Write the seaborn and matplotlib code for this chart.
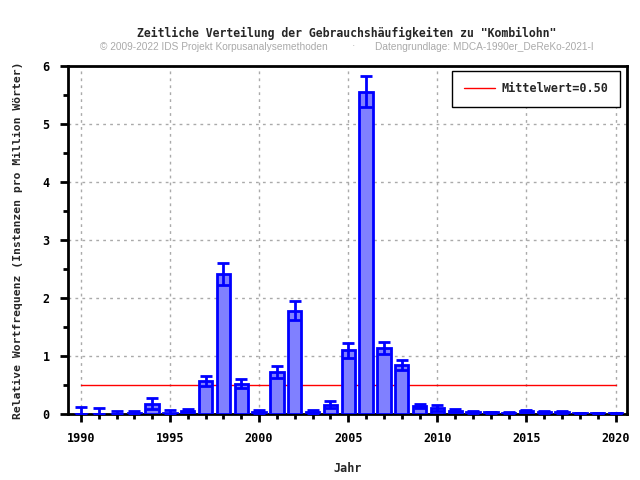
import matplotlib
matplotlib.use("Agg")
import matplotlib.pyplot as plt
import seaborn as sns
import numpy as np
import pandas as pd
from matplotlib.ticker import MultipleLocator

years = list(range(1990, 2021))
values = [0.00, 0.00, 0.00, 0.02, 0.18, 0.02, 0.05, 0.57, 2.41, 0.52,
          0.04, 0.72, 1.78, 0.03, 0.16, 1.10, 5.56, 1.14, 0.85, 0.14,
          0.10, 0.06, 0.04, 0.03, 0.02, 0.05, 0.04, 0.04, 0.01, 0.01, 0.01]
err_low = [0.00, 0.00, 0.00, 0.00, 0.09, 0.00, 0.03, 0.48, 2.22, 0.44,
           0.01, 0.62, 1.62, 0.00, 0.10, 0.97, 5.30, 1.03, 0.76, 0.10,
           0.06, 0.04, 0.02, 0.01, 0.01, 0.03, 0.02, 0.02, 0.00, 0.00, 0.00]
err_high = [0.12, 0.11, 0.06, 0.05, 0.28, 0.07, 0.08, 0.66, 2.60, 0.60,
            0.07, 0.82, 1.94, 0.07, 0.22, 1.22, 5.82, 1.24, 0.93, 0.17,
            0.15, 0.08, 0.06, 0.04, 0.03, 0.07, 0.06, 0.06, 0.02, 0.02, 0.02]
mean_value = 0.50

title = 'Zeitliche Verteilung der Gebrauchshäufigkeiten zu "Kombilohn"'
sub_left = "© 2009-2022 IDS Projekt Korpusanalysemethoden"
sub_dot = "·"
sub_right = "Datengrundlage: MDCA-1990er_DeReKo-2021-I"

sns.set_style("white")
mono = ["DejaVu Sans Mono"]

df = pd.DataFrame({"Jahr": years, "Wert": values})

fig = plt.figure(figsize=(6.4, 4.8), dpi=100)
ax = fig.add_axes([0.106, 0.1375, 0.874, 0.725])

ax.plot([years[0], years[-1]], [mean_value, mean_value], color="red",
        linewidth=1, zorder=2, label="Mittelwert=%.2f" % mean_value)

sns.barplot(data=df, x="Jahr", y="Wert", native_scale=True, width=0.75,
            color="#8080ff", edgecolor="#0000ff", linewidth=2, saturation=1,
            errorbar=None, ax=ax, zorder=3)

v = np.array(values)
yerr = np.vstack([v - np.array(err_low), np.array(err_high) - v])
ax.errorbar(years, values, yerr=yerr, fmt="none", ecolor="#0000ff",
            elinewidth=2, capsize=4, capthick=2, zorder=4)

ax.set_xlim(1989.27, 2020.65)
ax.set_ylim(0, 6)
ax.xaxis.set_major_locator(MultipleLocator(5))
ax.xaxis.set_minor_locator(MultipleLocator(1))
ax.yaxis.set_major_locator(MultipleLocator(1))
ax.yaxis.set_minor_locator(MultipleLocator(0.5))
ax.tick_params(axis="both", which="major", direction="out", length=6, width=2,
               colors="black", labelsize=8.5, bottom=True, left=True, pad=7)
ax.tick_params(axis="both", which="minor", direction="out", length=3.5, width=2,
               colors="black", bottom=True, left=True)
for lab in ax.get_xticklabels() + ax.get_yticklabels():
    lab.set_family(mono)
    lab.set_fontweight("bold")

ax.grid(True, which="major", color="#aaaaaa", linestyle=(0, (2, 3)), linewidth=1, zorder=0)
ax.set_axisbelow(True)
for s in ax.spines.values():
    s.set_visible(True)
    s.set_color("black")
    s.set_linewidth(2)

ax.set_xlabel("Jahr", family=mono, fontweight="bold", fontsize=8.5, labelpad=12)
ax.set_ylabel("Relative Wortfrequenz (Instanzen pro Million Wörter)", family=mono,
              fontweight="bold", fontsize=8.2, labelpad=14)

leg = ax.legend(loc="upper right", bbox_to_anchor=(0.99, 0.99), frameon=True,
                fancybox=False, edgecolor="black", framealpha=1,
                prop={"family": mono, "weight": "bold", "size": 8.5},
                handlelength=2.6, handletextpad=0.6, borderpad=1.0,
                borderaxespad=0.1)
leg.get_frame().set_linewidth(1)

fig.text(0.542, 0.931, title, ha="center", va="center", family=mono,
         fontweight="bold", fontsize=8.3)
fig.text(100 / 640, 0.903, sub_left, ha="left", va="center", family="Liberation Sans",
         color="#aaaaaa", fontsize=7.3)
fig.text(353 / 640, 0.903, sub_dot, ha="center", va="center", family="Liberation Sans",
         color="#aaaaaa", fontsize=7.3)
fig.text(375 / 640, 0.903, sub_right, ha="left", va="center", family="Liberation Sans",
         color="#aaaaaa", fontsize=7.3)

fig.savefig("out.png", dpi=100)
